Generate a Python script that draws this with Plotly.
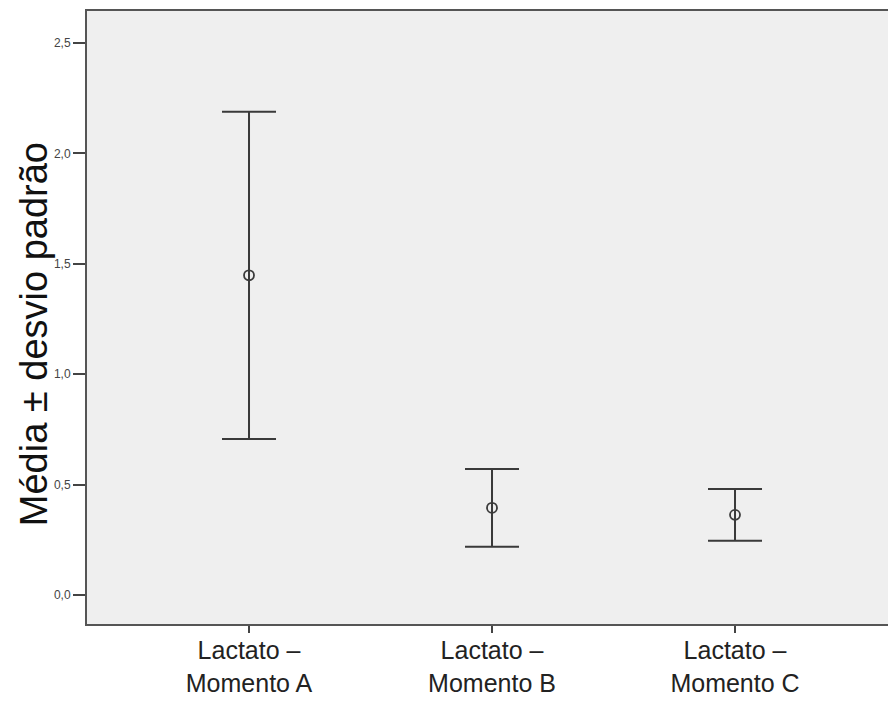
import plotly.graph_objects as go

categories = ["Lactato –<br>Momento A", "Lactato –<br>Momento B", "Lactato –<br>Momento C"]
means = [1.448, 0.395, 0.363]
sds = [0.741, 0.176, 0.117]
ytick_vals = [0.0, 0.5, 1.0, 1.5, 2.0, 2.5]
ytick_text = ["0,0", "0,5", "1,0", "1,5", "2,0", "2,5"]

xpos = list(range(len(categories)))

fig = go.Figure()
fig.add_trace(go.Scatter(
    x=xpos, y=means, mode="markers",
    marker=dict(symbol="circle-open", size=10, color="#3a3a3a", line=dict(width=1.8, color="#3a3a3a")),
    error_y=dict(type="data", array=sds, visible=True, width=27, thickness=2, color="#3a3a3a"),
    showlegend=False, hoverinfo="skip",
))

fig.update_layout(
    width=888, height=702,
    margin=dict(l=87, r=0, t=11, b=78),
    paper_bgcolor="white", plot_bgcolor="#efefef",
    font=dict(family="Liberation Sans, Arial, sans-serif", color="#222"),
    xaxis=dict(
        range=[-0.6667, 2.6296], tickvals=xpos, ticktext=categories,
        ticks="outside", ticklen=7, tickwidth=2, tickcolor="#444",
        showline=True, linecolor="#555", linewidth=2, mirror=True,
        showgrid=False, zeroline=False, automargin=False,
        ticklabelstandoff=-4,
        tickfont=dict(size=25, color="#222"),
    ),
    yaxis=dict(
        range=[-0.1313, 2.645], tickvals=ytick_vals, ticktext=ytick_text,
        ticks="outside", ticklen=12, tickwidth=1.5, tickcolor="#444",
        showline=True, linecolor="#555", linewidth=2,
        showgrid=False, zeroline=False, automargin=False,
        tickfont=dict(size=12, color="#444"),
    ),
    annotations=[dict(
        text="Média ± desvio padrão", textangle=-90,
        xref="paper", yref="paper", x=-0.066, y=0.473,
        xanchor="center", yanchor="middle", showarrow=False,
        font=dict(size=38, color="#111"),
    )],
)

fig.write_html("out.html")
